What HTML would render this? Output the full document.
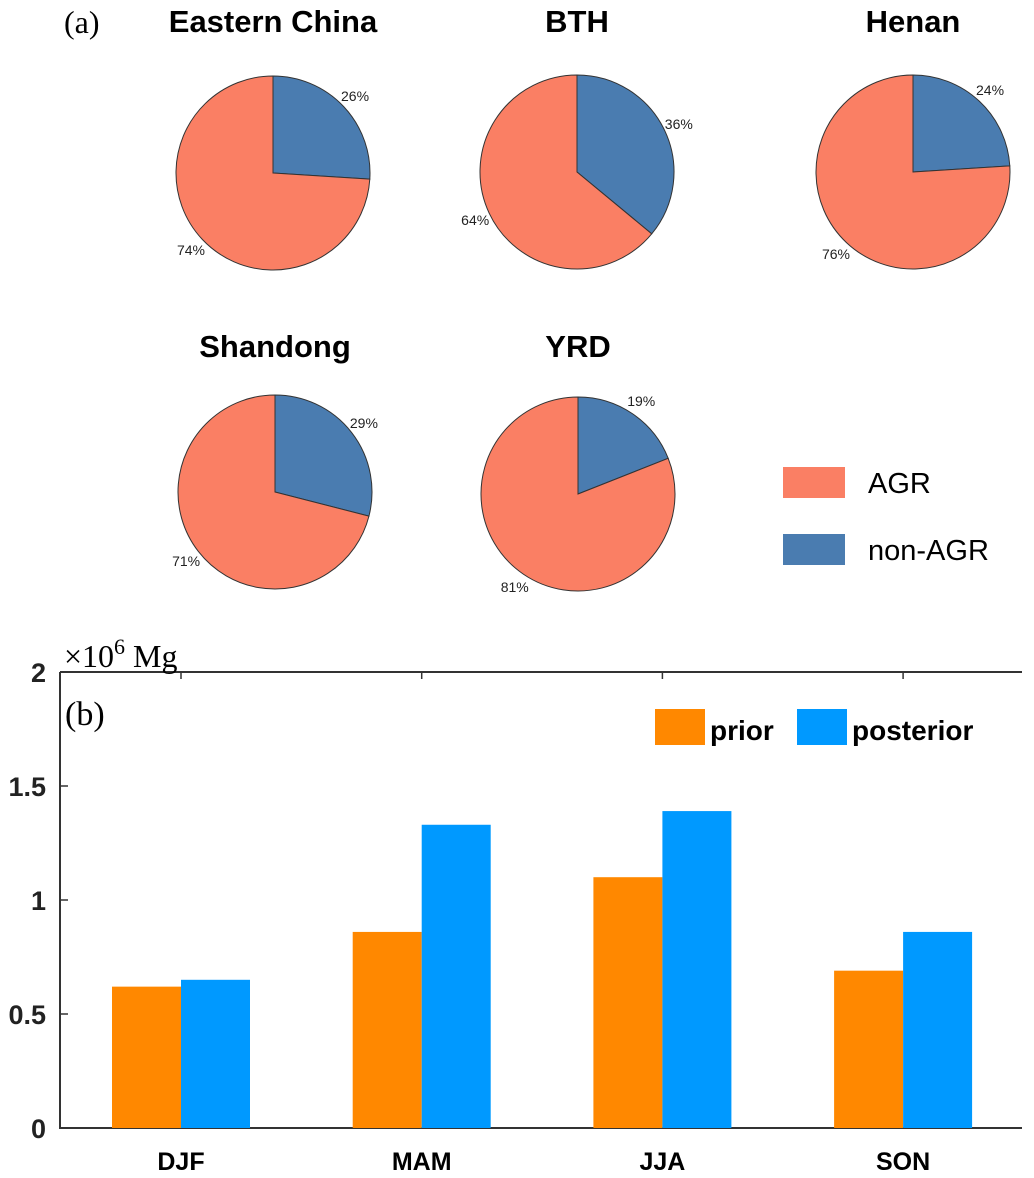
<!DOCTYPE html>
<html><head><meta charset="utf-8"><style>
body{margin:0;background:#fff;}
svg{display:block;font-family:"Liberation Sans",sans-serif;}
</style></head><body>
<svg id="fig" width="1034" height="1178" viewBox="0 0 1034 1178">
<text x="64" y="33" font-family="Liberation Serif" font-size="32">(a)</text>
<g id="pies"></g>
<g>
<rect x="783" y="467" width="62" height="31" fill="#FA7F64"/>
<text x="868" y="493" font-size="29">AGR</text>
<rect x="783" y="534" width="62" height="31" fill="#4A7CB0"/>
<text x="868" y="560" font-size="29">non-AGR</text>
</g>
<g id="bars"></g>
</svg>
<script>
const NS="http://www.w3.org/2000/svg";
function mk(p,t,a){const e=document.createElementNS(NS,t);for(const k in a)e.setAttribute(k,a[k]);p.appendChild(e);return e;}
// Pie data
const pieRegions=["Eastern China","BTH","Henan","Shandong","YRD"];
const pieAgr=[74,64,76,71,81];
const pieNonAgr=[26,36,24,29,19];
const pieCenters=[[273,173],[577,172],[913,172],[275,492],[578,494]];
const pieTitleY=[32,32,32,357,357];
const R=97;
const pg=document.getElementById('pies');
function pt(cx,cy,r,f){const a=f*2*Math.PI;return [cx+r*Math.sin(a),cy-r*Math.cos(a)];}
pieRegions.forEach((name,i)=>{
  const [cx,cy]=pieCenters[i];
  const g=mk(pg,'g',{});
  
  
  const t=mk(g,'text',{x:cx,y:pieTitleY[i],'text-anchor':'middle','font-size':31,'font-weight':'bold'});
  t.textContent=name;
  
  
  const tot=pieAgr[i]+pieNonAgr[i];
  const fN=pieNonAgr[i]/tot;
  const p1=pt(cx,cy,R,0),p2=pt(cx,cy,R,fN);
  const sN=mk(g,'path',{d:`M${cx},${cy}L${p1[0]},${p1[1]}A${R},${R} 0 ${fN>0.5?1:0} 1 ${p2[0]},${p2[1]}Z`,fill:'#4A7CB0',stroke:'#333','stroke-width':1});
  
  
  const sA=mk(g,'path',{d:`M${cx},${cy}L${p2[0]},${p2[1]}A${R},${R} 0 ${1-fN>0.5?1:0} 1 ${p1[0]},${p1[1]}Z`,fill:'#FA7F64',stroke:'#333','stroke-width':1});
  
  
  const l1=pt(cx,cy,R*1.16,fN/2);
  const tl1=mk(g,'text',{x:l1[0],y:l1[1]+5,'text-anchor':'middle','font-size':14,fill:'#222'});
  tl1.textContent=pieNonAgr[i]+'%';
  
  
  const l2=pt(cx,cy,R*1.16,fN+(1-fN)/2);
  const tl2=mk(g,'text',{x:l2[0],y:l2[1]+5,'text-anchor':'middle','font-size':14,fill:'#222'});
  tl2.textContent=pieAgr[i]+'%';
  
  
});
// Bar data
const seasons=["DJF","MAM","JJA","SON"];
const priorVals=[0.62,0.86,1.10,0.69];
const posteriorVals=[0.65,1.33,1.39,0.86];
const yTicks=[0,0.5,1,1.5,2];
const X0=60,X1=1022,Y0=1128,Y1=672;
const bg=document.getElementById('bars');
const yS=v=>Y0-(v/2)*(Y0-Y1);
const xS=i=>181+i*240.7;
const BW=69;
const ax=mk(bg,'path',{d:`M${X0},${Y1}L${X0},${Y0}L${X1},${Y0}M${X0},${Y1}L${X1},${Y1}`,stroke:'#333','stroke-width':2,fill:'none'});


seasons.forEach((s,i)=>{
  const x=xS(i);
  const b1=mk(bg,'rect',{x:x-BW,y:yS(priorVals[i]),width:BW,height:Y0-yS(priorVals[i]),fill:'#FF8800'});
  
  
  const b2=mk(bg,'rect',{x:x,y:yS(posteriorVals[i]),width:BW,height:Y0-yS(posteriorVals[i]),fill:'#0099FF'});
  
  
  mk(bg,'line',{x1:x,x2:x,y1:Y1,y2:Y1+7,stroke:'#333','stroke-width':1.5});
  const t=mk(bg,'text',{x:x,y:1170,'text-anchor':'middle','font-size':25,'font-weight':'bold'});
  t.textContent=s;
  
  
});
yTicks.forEach(v=>{
  const y=yS(v);
  mk(bg,'line',{x1:X0,x2:X0+8,y1:y,y2:y,stroke:'#333','stroke-width':1.5});
  const t=mk(bg,'text',{x:46,y:y+10,'text-anchor':'end','font-size':27,'font-weight':'bold',fill:'#222'});
  t.textContent=String(v);
  
  
});
const u=mk(bg,'text',{x:64,y:667,'font-family':'Liberation Serif','font-size':32});
u.innerHTML='×10<tspan dy="-13" font-size="22">6</tspan><tspan dy="13"> Mg</tspan>';


const pb=mk(bg,'text',{x:65,y:725,'font-family':'Liberation Serif','font-size':34});
pb.textContent='(b)';


const lg=mk(bg,'g',{});


const s1=mk(lg,'rect',{x:655,y:709,width:50,height:36,fill:'#FF8800'});


const t1=mk(lg,'text',{x:710,y:740,'font-size':28,'font-weight':'bold'});
t1.textContent='prior';


const s2=mk(lg,'rect',{x:797,y:709,width:50,height:36,fill:'#0099FF'});


const t2=mk(lg,'text',{x:852,y:740,'font-size':28,'font-weight':'bold'});
t2.textContent='posterior';


</script>
</body></html>
